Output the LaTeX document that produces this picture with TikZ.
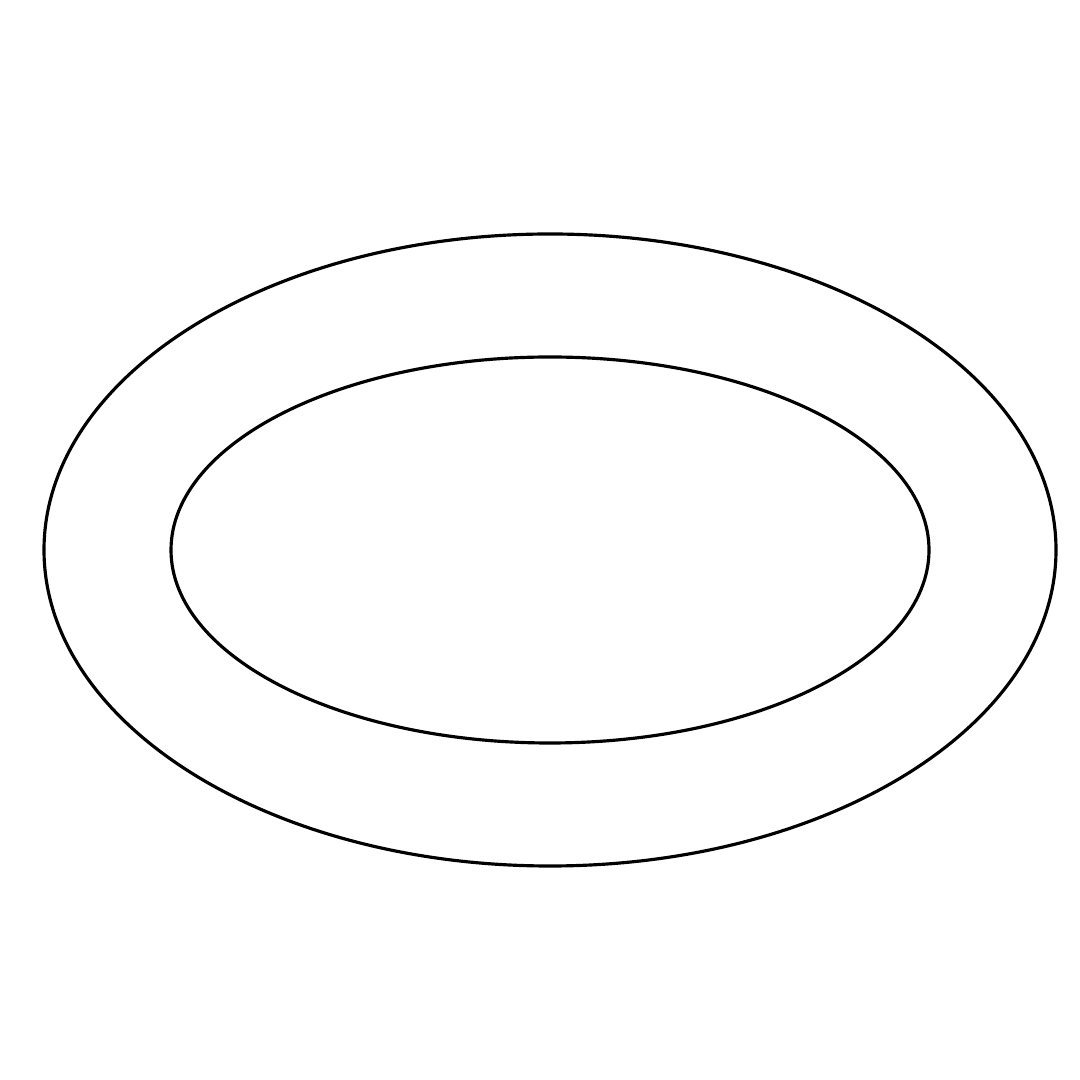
\documentclass[tikz,border=0pt]{standalone}

\begin{document}
\begin{tikzpicture}[ringline/.style={draw=black, line width=0.9pt}]
                \useasboundingbox (0,0) rectangle (10.8,10.8);
                \coordinate (c) at (5.50,5.30);
                \draw [ringline] (c) ellipse [x radius=5.06cm, y radius=3.16cm];
                \draw [ringline] (c) ellipse [x radius=3.79cm, y radius=1.93cm];
\end{tikzpicture}
\end{document}
